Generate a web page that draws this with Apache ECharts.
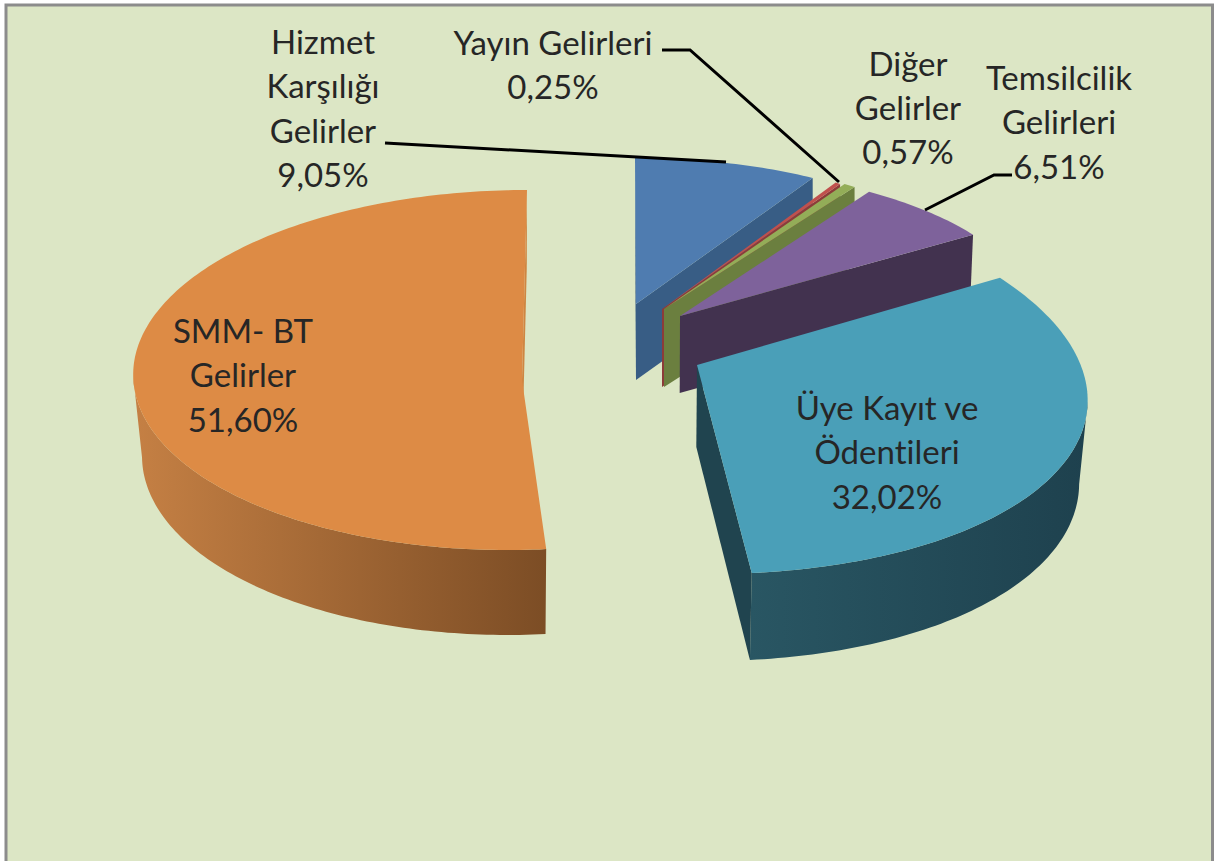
<!DOCTYPE html>
<html>
<head>
<meta charset="utf-8">
<style>
html, body { margin: 0; padding: 0; background: #fff; }
#gelirPie { width: 1214px; height: 861px; }
#gelirPie text { font-variant-ligatures: none; }
</style>
</head>
<body>
<div id="gelirPie"></div>
<script src="https://cdn.jsdelivr.net/npm/echarts@6/dist/echarts.min.js"></script>
<script>
// chart data, clockwise from 12 o'clock
var categories = ["Hizmet\nKarşılığı\nGelirler", "Yayın Gelirleri", "Diğer\nGelirler", "Temsilcilik\nGelirleri", "Üye Kayıt ve\nÖdentileri", "SMM- BT\nGelirler"];
var values = [9.05, 0.25, 0.57, 6.51, 32.02, 51.60];

// fake 3d look: each exploded slice gets its own projected ellipse
var sliceShapes = [
  { cx: 635, cy: 285, rx: 330, ry: 127, sh: 0, ax: 636, ay: 304, d: 76, kx: 1, ky: 1 },
  { cx: 658, cy: 309, rx: 330, ry: 150, sh: 0, ax: 662, ay: 309, d: 78, kx: 1, ky: 1 },
  { cx: 657, cy: 309, rx: 340, ry: 150, sh: 0, ax: 664, ay: 309, d: 78, kx: 1, ky: 1 },
  { cx: 650, cy: 309, rx: 377, ry: 144, sh: 0, ax: 680, ay: 316, d: 77, kx: 0.99, ky: 1 },
  { cx: 662, cy: 378.6, rx: 423, ry: 195.4, sh: -47.5, ax: 697, ay: 365, d: 82.3, kx: 0.98, ky: 1.024 },
  { cx: 517.3, cy: 370, rx: 384, ry: 180, sh: 9.7, ax: 522, ay: 380, d: 81.4, kx: 0.977, ky: 1.02 }
];
var sliceColors = [
  { top: "#4f7cb0", edge: "#385d85", wall: ["#385d85", "#385d85"] },
  { top: "#c0504d", edge: "#8c3b39", wall: ["#8c3b39", "#8c3b39"] },
  { top: "#93ad58", edge: "#6b7f3f", wall: ["#6b7f3f", "#6b7f3f"] },
  { top: "#7e629b", edge: "#42324f", wall: ["#42324f", "#42324f"] },
  { top: "#4a9fb8", edge: "#20444f", wall: ["#295663", "#1e414e"] },
  { top: "#dd8b45", edge: "#cf8642", wall: ["#c58044", "#7c4d25"] }
];
var labelSpots = [
  { x: 323, y: 40.5, h: 44.5 },
  { x: 553, y: 41.5, h: 44.5 },
  { x: 908, y: 62.5, h: 44 },
  { x: 1059, y: 76.5, h: 44.5 },
  { x: 887, y: 406.5, h: 44.5 },
  { x: 243, y: 329.5, h: 44.5 }
];
var leaders = [
  [[385, 143], [726, 162]],
  [[662, 50], [690, 50], [839, 182]],
  null,
  [[1012, 175], [994, 175], [925, 210]],
  null,
  null
];

var total = 0;
values.forEach(function (v) { total += v; });

function arcPoint(s, deg) {
  var t = deg * Math.PI / 180;
  var u = Math.sin(t), v = Math.cos(t);
  return [s.cx + s.rx * u + s.sh * v, s.cy - s.ry * v];
}
function dropPoint(s, p) {
  return [s.cx + (p[0] - s.cx) * s.kx, s.cy + (p[1] - s.cy) * s.ky + s.d];
}
function wallPoly(s, pts) {
  var low = pts.map(function (p) { return dropPoint(s, p); }).reverse();
  return pts.concat(low);
}

function renderSlice(params, api) {
  var i = params.dataIndex;
  var s = sliceShapes[i], c = sliceColors[i];
  var before = 0;
  for (var k = 0; k < i; k++) before += values[k];
  var a0 = before / total * 360;
  var a1 = (before + api.value(0)) / total * 360;
  var arc = [];
  var steps = Math.max(2, Math.ceil(a1 - a0));
  for (var n = 0; n <= steps; n++) arc.push(arcPoint(s, a0 + (a1 - a0) * n / steps));
  var apex = [s.ax, s.ay];
  var kids = [];

  // side walls, only those facing the viewer
  if (arc[0][0] < apex[0]) kids.push({ type: "polygon", shape: { points: wallPoly(s, [apex, arc[0]]) }, style: { fill: c.edge } });
  var run = arc.filter(function (p, n) {
    return (n < steps && arc[n + 1][0] < p[0]) || (n > 0 && p[0] < arc[n - 1][0]);
  });
  if (run.length > 1) {
    kids.push({
      type: "polygon",
      shape: { points: wallPoly(s, run) },
      style: {
        fill: {
          type: "linear", x: 0, y: 0, x2: 1, y2: 0,
          colorStops: [{ offset: 0, color: c.wall[0] }, { offset: 1, color: c.wall[1] }]
        }
      }
    });
  }
  if (apex[0] < arc[steps][0]) kids.push({ type: "polygon", shape: { points: wallPoly(s, [arc[steps], apex]) }, style: { fill: c.edge } });

  // top face
  kids.push({ type: "polygon", shape: { points: [apex].concat(arc) }, style: { fill: c.top } });

  // leader line
  if (leaders[i]) {
    kids.push({ type: "polyline", z2: 5, shape: { points: leaders[i] }, style: { fill: "none", stroke: "#000", lineWidth: 3 } });
  }

  // label
  var lines = categories[i].split("\n");
  lines.push(api.value(0).toFixed(2).replace(".", ",") + "%");
  lines.forEach(function (line, n) {
    kids.push({
      type: "text",
      z2: 6,
      style: {
        text: line,
        x: labelSpots[i].x,
        y: labelSpots[i].y + n * labelSpots[i].h,
        align: "center",
        verticalAlign: "middle",
        fontFamily: "Lato",
        fontSize: 33,
        fill: "#262626"
      }
    });
  });
  return { type: "group", children: kids };
}

var chart = echarts.init(document.getElementById("gelirPie"), null, { renderer: "svg" });
chart.setOption({
  animation: false,
  backgroundColor: "#fff",
  graphic: [{
    type: "rect",
    z: -10,
    shape: { x: 6, y: 5, width: 1206.5, height: 900 },
    style: { fill: "#dce6c5", stroke: "#8c8c8c", lineWidth: 3 }
  }],
  series: [{
    type: "custom",
    coordinateSystem: "none",
    clip: false,
    data: values.map(function (v, i) { return { name: categories[i], value: [v] }; }),
    renderItem: renderSlice
  }]
});
</script>
</body>
</html>
